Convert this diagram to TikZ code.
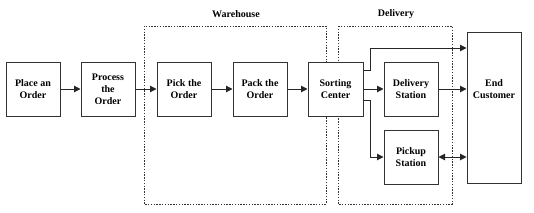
\documentclass[tikz,border=0pt]{standalone}
\usepackage{fontspec}
\setmainfont{Liberation Serif}
\usetikzlibrary{arrows.meta}
\begin{document}
\begin{tikzpicture}[x=1pt,y=-1pt,
  stepbox/.style={draw=black!80,line width=1pt,fill=white,inner sep=0pt,align=center,
    font=\bfseries\fontsize{10}{12}\selectfont},
  group/.style={draw=black!80,line width=0.9pt,dash pattern=on 1.4pt off 1.4pt},
  lbl/.style={font=\bfseries\fontsize{10}{12}\selectfont,align=center},
  arr/.style={draw=black!85,line width=1pt,-{Triangle[length=6.5pt,width=6.5pt]}},
  darr/.style={draw=black!85,line width=1pt,{Triangle[length=6.5pt,width=6.5pt]}-{Triangle[length=6.5pt,width=6.5pt]}}]
\useasboundingbox (0,0) rectangle (534,212);
\draw[group] (144,26) rectangle (326,204);
\draw[group] (338,26) rectangle (452,204);
\node[lbl] (wh) at (236,14) {Warehouse};
\node[lbl] (dl) at (396,14) {Delivery};
\node[stepbox,minimum width=54pt,minimum height=54pt] (a) at (33,89) {Place an\\Order};
\node[stepbox,minimum width=54pt,minimum height=54pt] (b) at (108,89) {Process\\the\\Order};
\node[stepbox,minimum width=54pt,minimum height=54pt] (c) at (184,89) {Pick the\\Order};
\node[stepbox,minimum width=54pt,minimum height=54pt] (d) at (260,89) {Pack the\\Order};
\node[stepbox,minimum width=55pt,minimum height=54pt] (s) at (335.5,89) {Sorting\\Center};
\node[stepbox,minimum width=54pt,minimum height=54pt] (ds) at (411,89) {Delivery\\Station};
\node[stepbox,minimum width=54pt,minimum height=54pt] (ps) at (411,157) {Pickup\\Station};
\node[stepbox,minimum width=54pt,minimum height=151pt] (ec) at (494,107.5) {};
\node[lbl] (ect) at (494,89) {End\\Customer};
\coordinate (j) at (370,0);
\draw[arr] (a) -- (b);
\draw[arr] (b) -- (c);
\draw[arr] (c) -- (d);
\draw[arr] (d) -- (s);
\draw[arr] (s) -- (ds);
\draw[arr] (ds) -- (ec.west |- ds);
\draw[arr] (s.east |- 0,70) -| (j |- 0,48) -- (ec.west |- 0,48);
\draw[arr] (s.east |- 0,100) -| (j |- ps) -- (ps.west);
\draw[darr] (ps.east) -- (ec.west |- ps);
\end{tikzpicture}
\end{document}
